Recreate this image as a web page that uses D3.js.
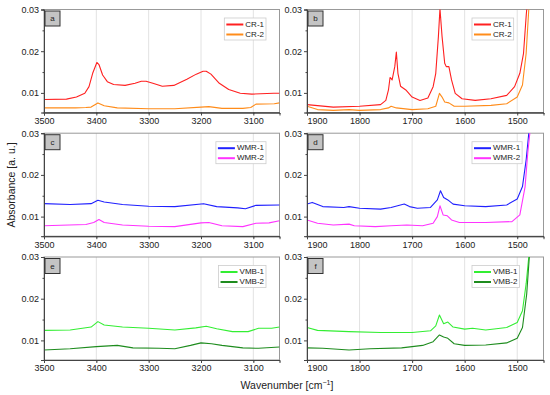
<!DOCTYPE html>
<html lang="en">
<head>
  <meta charset="UTF-8">
  <title>FTIR absorbance panels</title>
  <script src="https://d3js.org/d3.v7.min.js"></script>
  <style>
    body { margin: 0; background: #fff; }
    text { font-family: "Liberation Sans", Arial, sans-serif; fill: #222; }
  </style>
</head>
<body>
  <svg id="chart" width="550" height="395"></svg>

  <script>
    // ---- data ----
    const leftTicks = [3500, 3400, 3300, 3200, 3100];
    const rightTicks = [1900, 1800, 1700, 1600, 1500];
    const yTicks = [0.01, 0.02, 0.03];

    // panel a
    const cr1aWn = [3500, 3457, 3438, 3422, 3414, 3407, 3399, 3395, 3388, 3379, 3367, 3345, 3326, 3314, 3305, 3292, 3274, 3252, 3227, 3209, 3196, 3190, 3181, 3165, 3147, 3125, 3103, 3061, 3050];
    const cr1aAbs = [0.0084, 0.0085, 0.0090, 0.0099, 0.0115, 0.0147, 0.0173, 0.0168, 0.0143, 0.0127, 0.0120, 0.0118, 0.0123, 0.0128, 0.0128, 0.0123, 0.0116, 0.0118, 0.0133, 0.0145, 0.0152, 0.0152, 0.0145, 0.0123, 0.0108, 0.0099, 0.0097, 0.0099, 0.0099];
    const cr2aWn = [3500, 3440, 3420, 3410, 3397, 3385, 3360, 3300, 3250, 3200, 3185, 3160, 3120, 3105, 3095, 3060, 3050];
    const cr2aAbs = [0.0064, 0.0064, 0.0065, 0.0066, 0.0076, 0.0069, 0.0064, 0.0062, 0.0062, 0.0066, 0.0067, 0.0063, 0.0063, 0.0065, 0.0073, 0.0074, 0.0076];

    // panel b
    const cr1bWn = [1900, 1850, 1800, 1760, 1750, 1745, 1742, 1738, 1733, 1730, 1727, 1722, 1712, 1700, 1685, 1670, 1660, 1655, 1650, 1647, 1643, 1638, 1635, 1630, 1625, 1618, 1605, 1580, 1550, 1520, 1505, 1495, 1488, 1483, 1480, 1478];
    const cr1bAbs = [0.0072, 0.0066, 0.0068, 0.0072, 0.0082, 0.0107, 0.0137, 0.0131, 0.0163, 0.0198, 0.0147, 0.0116, 0.0107, 0.0090, 0.0082, 0.0088, 0.0115, 0.0147, 0.0235, 0.0302, 0.0235, 0.0171, 0.0163, 0.0163, 0.0131, 0.0099, 0.0086, 0.0082, 0.0086, 0.0094, 0.0115, 0.0147, 0.0195, 0.0284, 0.0330, 0.0360];
    const cr2bWn = [1900, 1880, 1850, 1820, 1800, 1760, 1745, 1740, 1730, 1700, 1670, 1655, 1648, 1643, 1638, 1630, 1620, 1600, 1550, 1520, 1500, 1490, 1483, 1478, 1475];
    const cr2bAbs = [0.0068, 0.0060, 0.0058, 0.0060, 0.0058, 0.0060, 0.0064, 0.0068, 0.0064, 0.0060, 0.0062, 0.0068, 0.0099, 0.0090, 0.0078, 0.0076, 0.0068, 0.0068, 0.0070, 0.0074, 0.0090, 0.0119, 0.0195, 0.0300, 0.0340];

    // panel c
    const wmr1cWn = [3500, 3450, 3410, 3397, 3385, 3350, 3300, 3250, 3195, 3170, 3130, 3115, 3095, 3050];
    const wmr1cAbs = [0.0131, 0.0129, 0.0131, 0.0139, 0.0135, 0.0129, 0.0125, 0.0124, 0.0131, 0.0124, 0.0121, 0.0119, 0.0127, 0.0128];
    const wmr2cWn = [3500, 3420, 3405, 3395, 3385, 3350, 3300, 3250, 3200, 3185, 3160, 3120, 3095, 3070, 3050];
    const wmr2cAbs = [0.0078, 0.0081, 0.0086, 0.0093, 0.0086, 0.0080, 0.0077, 0.0076, 0.0085, 0.0086, 0.0078, 0.0076, 0.0084, 0.0085, 0.0090];

    // panel d
    const wmr1dWn = [1900, 1890, 1870, 1830, 1820, 1800, 1760, 1740, 1715, 1705, 1690, 1665, 1652, 1646, 1640, 1632, 1622, 1600, 1560, 1520, 1500, 1490, 1483, 1478, 1475];
    const wmr1dAbs = [0.0130, 0.0134, 0.0124, 0.0122, 0.0124, 0.0120, 0.0118, 0.0122, 0.0130, 0.0124, 0.0120, 0.0122, 0.0140, 0.0162, 0.0146, 0.0140, 0.0130, 0.0126, 0.0124, 0.0128, 0.0142, 0.0172, 0.0236, 0.0300, 0.0340];
    const wmr2dWn = [1900, 1880, 1850, 1820, 1810, 1770, 1740, 1710, 1680, 1660, 1652, 1647, 1641, 1633, 1625, 1610, 1560, 1510, 1495, 1485, 1480, 1476, 1473];
    const wmr2dAbs = [0.0092, 0.0084, 0.0080, 0.0082, 0.0078, 0.0076, 0.0078, 0.0080, 0.0078, 0.0084, 0.0100, 0.0126, 0.0104, 0.0102, 0.0092, 0.0086, 0.0086, 0.0088, 0.0104, 0.0172, 0.0252, 0.0300, 0.0340];

    // panel e
    const vmb1eWn = [3500, 3450, 3410, 3397, 3385, 3350, 3300, 3250, 3210, 3190, 3170, 3140, 3110, 3090, 3065, 3050];
    const vmb1eAbs = [0.0124, 0.0125, 0.0132, 0.0145, 0.0137, 0.0132, 0.0129, 0.0125, 0.0130, 0.0134, 0.0128, 0.0121, 0.0121, 0.0129, 0.0129, 0.0132];
    const vmb2eWn = [3500, 3450, 3400, 3360, 3330, 3280, 3250, 3220, 3200, 3180, 3160, 3120, 3090, 3050];
    const vmb2eAbs = [0.0077, 0.0080, 0.0085, 0.0088, 0.0082, 0.0081, 0.0080, 0.0088, 0.0094, 0.0092, 0.0088, 0.0082, 0.0081, 0.0084];

    // panel f
    const vmb1fWn = [1900, 1880, 1820, 1760, 1700, 1665, 1655, 1648, 1640, 1632, 1622, 1600, 1585, 1560, 1520, 1500, 1490, 1483, 1478, 1475];
    const vmb1fAbs = [0.0131, 0.0124, 0.0121, 0.0119, 0.0119, 0.0123, 0.0135, 0.0161, 0.0140, 0.0144, 0.0132, 0.0127, 0.0129, 0.0125, 0.0131, 0.0143, 0.0171, 0.0236, 0.0300, 0.0340];
    const vmb2fWn = [1900, 1870, 1820, 1780, 1720, 1680, 1660, 1648, 1640, 1632, 1620, 1600, 1560, 1520, 1500, 1490, 1482, 1477, 1474];
    const vmb2fAbs = [0.0082, 0.0081, 0.0077, 0.0080, 0.0082, 0.0088, 0.0097, 0.0113, 0.0108, 0.0105, 0.0092, 0.0088, 0.0089, 0.0094, 0.0105, 0.0131, 0.0211, 0.0300, 0.0340];

    // ---- layout ----
    const svg = d3.select("#chart");
    const colX = [[44, 279.5], [307, 543.5]];
    const rowTop = [9.5, 133.2, 257];
    const ph = 103;
    const yDomain = [0.0053, 0.03];

    const zip = (wn, ab) => wn.map((w, i) => ({ wn: w, a: ab[i] }));

    const panels = [
      { id: "a", col: 0, row: 0, legX: 266, series: [
        { name: "CR-1", color: "#ff2020", pts: zip(cr1aWn, cr1aAbs) },
        { name: "CR-2", color: "#ff8c1a", pts: zip(cr2aWn, cr2aAbs) }] },
      { id: "b", col: 1, row: 0, legX: 472, series: [
        { name: "CR-1", color: "#ff2020", pts: zip(cr1bWn, cr1bAbs) },
        { name: "CR-2", color: "#ff8c1a", pts: zip(cr2bWn, cr2bAbs) }] },
      { id: "c", col: 0, row: 1, legX: 266, series: [
        { name: "WMR-1", color: "#2020ff", pts: zip(wmr1cWn, wmr1cAbs) },
        { name: "WMR-2", color: "#ff33ff", pts: zip(wmr2cWn, wmr2cAbs) }] },
      { id: "d", col: 1, row: 1, legX: 472, series: [
        { name: "WMR-1", color: "#2020ff", pts: zip(wmr1dWn, wmr1dAbs) },
        { name: "WMR-2", color: "#ff33ff", pts: zip(wmr2dWn, wmr2dAbs) }] },
      { id: "e", col: 0, row: 2, legX: 266, series: [
        { name: "VMB-1", color: "#33ee33", pts: zip(vmb1eWn, vmb1eAbs) },
        { name: "VMB-2", color: "#1e8c1e", pts: zip(vmb2eWn, vmb2eAbs) }] },
      { id: "f", col: 1, row: 2, legX: 472, series: [
        { name: "VMB-1", color: "#33ee33", pts: zip(vmb1fWn, vmb1fAbs) },
        { name: "VMB-2", color: "#1e8c1e", pts: zip(vmb2fWn, vmb2fAbs) }] }
    ];

    panels.forEach(p => {
      const [x0, x1] = colX[p.col];
      const top = rowTop[p.row];
      const bottom = top + ph;
      const major = p.col === 0 ? leftTicks : rightTicks;
      const xDomain = p.col === 0 ? [3500, 3050] : [1900, 1450];
      const minor = d3.range(xDomain[1] + 50, xDomain[0], 100);

      const x = d3.scaleLinear().domain(xDomain).range([x0, x1]);
      const y = d3.scaleLinear().domain(yDomain).range([bottom, top]);

      const g = svg.append("g");

      // vertical grid
      g.selectAll("line.grid").data(major.slice(1)).join("line")
        .attr("class", "grid")
        .attr("x1", d => x(d)).attr("x2", d => x(d))
        .attr("y1", top).attr("y2", bottom)
        .attr("stroke", "#e2e2e2").attr("stroke-width", 1);

      // frame
      g.append("rect")
        .attr("x", x0).attr("y", top)
        .attr("width", x1 - x0).attr("height", ph)
        .attr("fill", "none").attr("stroke", "#999").attr("stroke-width", 1);

      // clipped spectra
      svg.append("clipPath").attr("id", "clip-" + p.id)
        .append("rect").attr("x", x0).attr("y", top)
        .attr("width", x1 - x0).attr("height", ph);

      const line = d3.line().x(d => x(d.wn)).y(d => y(d.a));
      g.append("g").attr("clip-path", `url(#clip-${p.id})`)
        .selectAll("path").data(p.series).join("path")
        .attr("d", d => line(d.pts))
        .attr("fill", "none")
        .attr("stroke", d => d.color)
        .attr("stroke-width", 1.1)
        .attr("stroke-linejoin", "round");

      // axes
      const yAxis = g.append("g").attr("transform", `translate(${x0},0)`)
        .call(d3.axisLeft(y).tickValues(yTicks).tickFormat(d3.format(".2f")).tickSize(3).tickPadding(2));
      g.append("g").attr("transform", `translate(${x0},0)`)
        .call(d3.axisLeft(y).tickValues([0.015, 0.025]).tickFormat("").tickSize(1.5));
      const xAxis = g.append("g").attr("transform", `translate(0,${bottom})`)
        .call(d3.axisBottom(x).tickValues(major).tickFormat(d3.format("d")).tickSize(3).tickPadding(2));
      g.append("g").attr("transform", `translate(0,${bottom})`)
        .call(d3.axisBottom(x).tickValues(minor).tickFormat("").tickSize(1.5));

      g.selectAll(".domain").attr("stroke", "#444");
      g.selectAll(".tick line").attr("stroke", "#444");
      g.selectAll(".tick text").style("font-size", "9px").attr("fill", "#222");
      if (p.col === 1) {
        xAxis.selectAll(".tick text").filter(d => d === 1900).attr("dx", 10);
      }

      // panel letter
      g.append("rect")
        .attr("x", x0 + 1).attr("y", top + 1.5)
        .attr("width", 15).attr("height", 15)
        .attr("fill", "#c4c4c4").attr("stroke", "#333").attr("stroke-width", 1);
      g.append("text")
        .attr("x", x0 + 8.5).attr("y", top + 9.5)
        .attr("text-anchor", "middle").attr("dominant-baseline", "middle")
        .style("font-size", "8px")
        .text(p.id);

      // legend
      const leg = g.append("g");
      const box = leg.append("rect")
        .attr("y", top + 8.5).attr("height", 22)
        .attr("fill", "#fff").attr("stroke", "#ccc").attr("stroke-width", 0.8);
      const items = leg.selectAll("g.item").data(p.series).join("g").attr("class", "item");
      items.append("line")
        .attr("x1", 2).attr("x2", 19)
        .attr("y1", (d, i) => top + 15 + i * 10).attr("y2", (d, i) => top + 15 + i * 10)
        .attr("stroke", d => d.color).attr("stroke-width", 2);
      const labels = items.append("text")
        .attr("x", 21)
        .attr("y", (d, i) => top + 15 + i * 10)
        .attr("dominant-baseline", "middle")
        .style("font-size", "8px")
        .text(d => d.name);
      const tw = d3.max(labels.nodes(), n => n.getComputedTextLength());
      const bw = 21 + tw + 2;
      const bx = p.col === 0 ? p.legX - bw : p.legX;
      box.attr("x", bx).attr("width", bw);
      items.attr("transform", `translate(${bx},0)`);
    });

    // axis titles
    svg.append("text")
      .attr("transform", "translate(15,185) rotate(-90)")
      .attr("text-anchor", "middle")
      .style("font-size", "10.5px")
      .text("Absorbance [a. u.]");

    const xt = svg.append("text")
      .attr("x", 287).attr("y", 389)
      .attr("text-anchor", "middle")
      .style("font-size", "10.5px");
    xt.append("tspan").text("Wavenumber [cm");
    xt.append("tspan").attr("dy", -4).style("font-size", "7px").text("−1");
    xt.append("tspan").attr("dy", 4).text("]");
  </script>
</body>
</html>
